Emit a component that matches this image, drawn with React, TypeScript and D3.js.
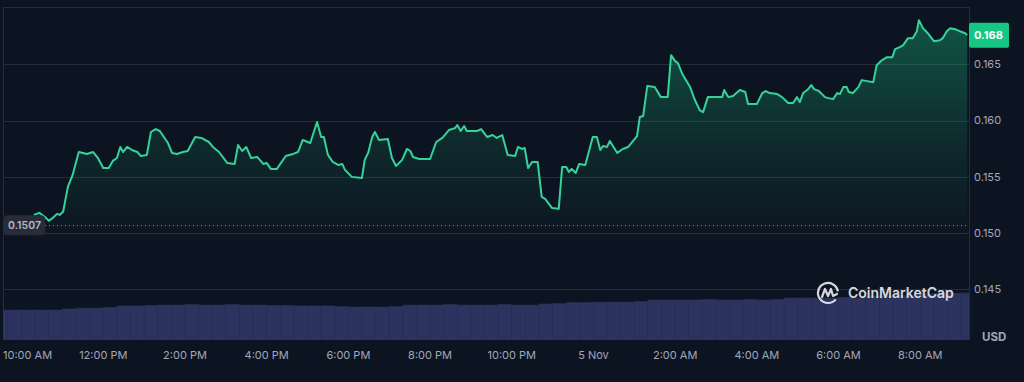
import React, { useEffect, useRef } from "react";
import * as d3 from "d3";

const W = 1024;
const H = 382;
// Base time: 4 Nov 2024, 10:00 AM
const BASE = new Date(2024, 10, 4, 10, 0, 0);

// minutes after 10:00 AM (4 Nov)
const priceMinutes = [
  18, 26, 34, 40, 46, 52, 56, 61, 68, 75, 84, 96, 105, 112, 120, 128, 134, 140, 145, 149,
  155, 162, 170, 175, 184, 190, 197, 203, 209, 215, 221, 228, 237, 244, 255, 264, 275, 281, 290, 302,
  313, 318, 324, 330, 337, 346, 355, 360, 366, 375, 388, 399, 406, 413, 424, 434, 440, 444, 450, 457,
  465, 471, 475, 485, 500, 504, 509, 515, 519, 525, 538, 544, 550, 559, 566, 571, 575, 584, 600, 609,
  618, 628, 637, 640, 645, 650, 654, 669, 675, 684, 692, 698, 706, 714, 725, 729, 735, 739, 744, 750,
  758, 764, 769, 779, 789, 794, 800, 804, 808, 814, 819, 828, 839, 845, 850, 854, 860, 864, 875, 883,
  891, 904, 908, 913, 919, 930, 939, 949, 954, 960, 964, 970, 974, 982, 989, 996, 1001, 1008, 1016, 1023,
  1029, 1032, 1038, 1045, 1055, 1063, 1067, 1080, 1088, 1093, 1099, 1110, 1117, 1126, 1133, 1139, 1143, 1148, 1154, 1160,
  1164, 1171, 1180, 1185, 1192, 1198, 1202, 1207, 1212, 1215, 1221, 1229, 1234, 1242, 1251, 1256, 1264, 1271, 1279, 1283,
  1290, 1295, 1302, 1309, 1315, 1318, 1324, 1331, 1340, 1349, 1353, 1359, 1364, 1371, 1378, 1386, 1389,
];

const prices = [
  0.15162, 0.1518, 0.15145, 0.15109, 0.15136, 0.15171, 0.15162, 0.15189, 0.15411, 0.15517, 0.15721, 0.15704, 0.15721, 0.15668, 0.15579, 0.15579, 0.15642, 0.15668, 0.15766, 0.15721,
  0.15766, 0.15739, 0.15721, 0.15686, 0.15695, 0.15899, 0.15925, 0.15908, 0.15854, 0.15801, 0.15713, 0.15704, 0.15721, 0.1573, 0.15854, 0.15846, 0.1581, 0.15766, 0.15721, 0.15624,
  0.15615, 0.15783, 0.1573, 0.15766, 0.15668, 0.15677, 0.15615, 0.15624, 0.15571, 0.15571, 0.15686, 0.15704, 0.15721, 0.15828, 0.15801, 0.15988, 0.15854, 0.15854, 0.15695, 0.15633,
  0.15606, 0.15615, 0.15562, 0.155, 0.15491, 0.15651, 0.15713, 0.15854, 0.15899, 0.15828, 0.15837, 0.15668, 0.15597, 0.15651, 0.15748, 0.1573, 0.15677, 0.15659, 0.15659, 0.1581,
  0.15846, 0.15917, 0.15934, 0.15961, 0.15908, 0.15952, 0.15908, 0.15908, 0.15925, 0.15854, 0.15872, 0.15846, 0.15872, 0.15695, 0.15686, 0.15766, 0.15748, 0.15757, 0.15579, 0.15633,
  0.15633, 0.15322, 0.15304, 0.15224, 0.15216, 0.15588, 0.15588, 0.15544, 0.15571, 0.15535, 0.15615, 0.15606, 0.15854, 0.15854, 0.15739, 0.15775, 0.15766, 0.15819, 0.15713, 0.15748,
  0.15766, 0.15863, 0.16032, 0.16041, 0.16307, 0.16298, 0.16209, 0.16209, 0.16582, 0.16529, 0.16511, 0.16422, 0.16378, 0.16298, 0.16183, 0.16094, 0.16076, 0.16209, 0.16209, 0.16209,
  0.16209, 0.16272, 0.16209, 0.16218, 0.16272, 0.16254, 0.16147, 0.16147, 0.16245, 0.16263, 0.16245, 0.16236, 0.16209, 0.16156, 0.16156, 0.16209, 0.16165, 0.16245, 0.16272, 0.16316,
  0.1628, 0.16263, 0.16209, 0.162, 0.16191, 0.16245, 0.16236, 0.16298, 0.16298, 0.16254, 0.16245, 0.16298, 0.1636, 0.16351, 0.16342, 0.16493, 0.16538, 0.16564, 0.16564, 0.16635,
  0.16653, 0.16671, 0.16733, 0.16733, 0.16795, 0.16893, 0.16822, 0.16777, 0.16706, 0.16715, 0.16733, 0.16795, 0.16822, 0.16813, 0.16795, 0.16777, 0.1676,
];

// volume bars (billions USD), one per 20 minutes starting 9:20 AM
const volumeStartMinute = -40;
const volumeStepMinutes = 20;
const volumes = [
  2.0, 2.0, 2.0, 2.0, 2.0, 2.07, 2.13, 2.13, 2.17, 2.27,
  2.27, 2.3, 2.33, 2.33, 2.37, 2.33, 2.33, 2.37, 2.33, 2.33,
  2.3, 2.3, 2.27, 2.27, 2.27, 2.23, 2.2, 2.2, 2.2, 2.23,
  2.33, 2.33, 2.33, 2.37, 2.33, 2.33, 2.33, 2.37, 2.33, 2.33,
  2.4, 2.43, 2.5, 2.5, 2.53, 2.53, 2.53, 2.57, 2.67, 2.67,
  2.67, 2.67, 2.7, 2.67, 2.67, 2.7, 2.67, 2.7, 2.8, 2.8,
  2.8, 2.8, 2.83, 2.8, 2.93, 2.93, 2.97, 2.97, 3.07, 3.13,
  3.13, 3.13,
];

const priceTicks = [0.145, 0.15, 0.155, 0.16, 0.165];
const openPrice = 0.1507;
const currencyLabel = "USD";
const brandLabel = "CoinMarketCap";

export default function App() {
  const ref = useRef<SVGSVGElement | null>(null);

  useEffect(() => {
    const svg = d3.select(ref.current);
    svg.selectAll("*").remove();
    const font = "Inter, 'Noto Sans', sans-serif";
    const left = 3, right = 969, top = 7, bottom = 340;
    const t = (m: number) => new Date(BASE.getTime() + m * 60000);

    const x = d3.scaleTime().domain([t(-27.3), t(1391.6)]).range([left, right]);
    const y = d3.scaleLinear().domain([0.1405, 0.1701]).range([bottom, top]);
    const yv = d3.scaleLinear().domain([0, 5]).range([bottom, bottom - 75]);

    const data = priceMinutes.map((m, i) => ({ d: t(m), p: prices[i] }));

    const defs = svg.append("defs");
    const grad = defs.append("linearGradient").attr("id", "areaGrad")
      .attr("gradientUnits", "userSpaceOnUse").attr("x1", 0).attr("y1", 20).attr("x2", 0).attr("y2", 245);
    grad.append("stop").attr("offset", 0).attr("stop-color", "#16c784").attr("stop-opacity", 0.36);
    grad.append("stop").attr("offset", 0.55).attr("stop-color", "#16c784").attr("stop-opacity", 0.12);
    grad.append("stop").attr("offset", 1).attr("stop-color", "#16c784").attr("stop-opacity", 0);
    defs.append("clipPath").attr("id", "plotClip").append("rect")
      .attr("x", left).attr("y", top).attr("width", right - left).attr("height", bottom - top);

    svg.append("rect").attr("width", W).attr("height", H).attr("fill", "#0d1421");

    // grid
    const gridColor = "#262c3a";
    svg.append("g").selectAll("line").data(priceTicks).join("line")
      .attr("x1", left).attr("x2", right)
      .attr("y1", (d) => Math.round(y(d)) + 0.5).attr("y2", (d) => Math.round(y(d)) + 0.5)
      .attr("stroke", gridColor).attr("stroke-width", 1);
    svg.append("line").attr("x1", left).attr("x2", right).attr("y1", top + 0.5).attr("y2", top + 0.5)
      .attr("stroke", gridColor);
    svg.append("line").attr("x1", left + 0.5).attr("x2", left + 0.5).attr("y1", top).attr("y2", bottom)
      .attr("stroke", gridColor);
    svg.append("line").attr("x1", right + 0.5).attr("x2", right + 0.5).attr("y1", top).attr("y2", bottom)
      .attr("stroke", gridColor);

    const plot = svg.append("g").attr("clip-path", "url(#plotClip)");

    // area
    const area = d3.area<{ d: Date; p: number }>().x((d) => x(d.d)).y0(bottom).y1((d) => y(d.p));
    plot.append("path").datum(data).attr("d", area).attr("fill", "url(#areaGrad)");

    // volume
    plot.append("g").selectAll("rect").data(volumes).join("rect")
      .attr("x", (_, i) => x(t(volumeStartMinute + i * volumeStepMinutes)))
      .attr("width", (_, i) => x(t(volumeStartMinute + (i + 1) * volumeStepMinutes)) - x(t(volumeStartMinute + i * volumeStepMinutes)))
      .attr("y", (d) => yv(d))
      .attr("height", (d) => bottom - yv(d))
      .attr("fill", "#2c335f")
      .attr("stroke", "#283055")
      .attr("stroke-width", 0.6);

    // open price dotted line
    svg.append("line").attr("x1", 45).attr("x2", right).attr("y1", Math.round(y(openPrice)) + 0.5).attr("y2", Math.round(y(openPrice)) + 0.5)
      .attr("stroke", "#7d8494").attr("stroke-width", 1).attr("stroke-dasharray", "1,3");

    // price line
    const line = d3.line<{ d: Date; p: number }>().x((d) => x(d.d)).y((d) => y(d.p));
    plot.append("path").datum(data).attr("d", line).attr("fill", "none")
      .attr("stroke", "#34d39a").attr("stroke-width", 2).attr("stroke-linejoin", "round");

    // open price label
    const oy = y(openPrice);
    svg.append("rect").attr("x", 4).attr("y", oy - 10).attr("width", 41).attr("height", 20).attr("rx", 4)
      .attr("fill", "#282c39");
    svg.append("text").attr("x", 24.5).attr("y", oy).attr("dy", "0.35em").attr("text-anchor", "middle")
      .attr("font-family", font).attr("font-size", 10.5).attr("font-weight", 600).attr("fill", "#b4b9c6")
      .text(openPrice.toFixed(4));

    // right axis labels
    svg.append("g").selectAll("text").data(priceTicks).join("text")
      .attr("x", 974).attr("y", (d) => y(d)).attr("dy", "0.35em")
      .attr("font-family", font).attr("font-size", 11).attr("fill", "#a1a7bb")
      .text((d) => d3.format(".3f")(d));

    // current price label
    const last = data[data.length - 1];
    const ly = y(last.p);
    svg.append("rect").attr("x", right).attr("y", ly - 12.5).attr("width", 40).attr("height", 25).attr("rx", 2)
      .attr("fill", "#16c784");
    svg.append("text").attr("x", 974).attr("y", ly).attr("dy", "0.35em")
      .attr("font-family", font).attr("font-size", 11).attr("font-weight", 700).attr("fill", "#ffffff")
      .text(d3.format(".3f")(last.p));

    // USD label
    svg.append("text").attr("x", 982).attr("y", 337).attr("dy", "0.35em")
      .attr("font-family", font).attr("font-size", 11.5).attr("font-weight", 700).attr("fill", "#a1a7bb")
      .text(currencyLabel);

    // x axis labels
    const ticks = x.ticks(d3.timeHour.every(2) as any);
    const fmt = (d: Date) => d.getHours() === 0 ? d3.timeFormat("%-d %b")(d) : d3.timeFormat("%-I:%M %p")(d);
    const xl = svg.append("g").selectAll("text").data(ticks).join("text")
      .attr("x", (d) => x(d)).attr("y", 355).attr("dy", "0.35em").attr("text-anchor", "middle")
      .attr("font-family", font).attr("font-size", 11).attr("fill", "#a1a7bb")
      .text(fmt);
    xl.each(function () {
      const el = this as SVGTextElement;
      const bb = el.getBBox();
      if (bb.x < left) el.setAttribute("x", String(+el.getAttribute("x")! + (left - bb.x)));
    });

    // watermark
    const wm = svg.append("g").attr("opacity", 0.92);
    const cx = 828, cy = 293, r = 10;
    const arc = d3.arc()({ innerRadius: r, outerRadius: r, startAngle: Math.PI * 0.72, endAngle: Math.PI * 2.45 } as any);
    wm.append("path").attr("d", arc as string).attr("transform", `translate(${cx},${cy})`)
      .attr("fill", "none").attr("stroke", "#e6e8ee").attr("stroke-width", 2.2).attr("stroke-linecap", "round");
    wm.append("path")
      .attr("d", `M${cx - 6},${cy + 4} L${cx - 3},${cy - 4} L${cx},${cy + 3} L${cx + 3},${cy - 4} L${cx + 5},${cy + 3} L${cx + 9},${cy + 1}`)
      .attr("fill", "none").attr("stroke", "#e6e8ee").attr("stroke-width", 2.2).attr("stroke-linejoin", "round").attr("stroke-linecap", "round");
    wm.append("text").attr("x", 848).attr("y", cy).attr("dy", "0.35em")
      .attr("font-family", font).attr("font-size", 14).attr("font-weight", 600).attr("fill", "#e6e8ee")
      .text(brandLabel);
  }, []);

  return (
    <svg
      ref={ref}
      width={W}
      height={H}
      style={{ position: "absolute", left: 0, top: 0, display: "block" }}
    />
  );
}
